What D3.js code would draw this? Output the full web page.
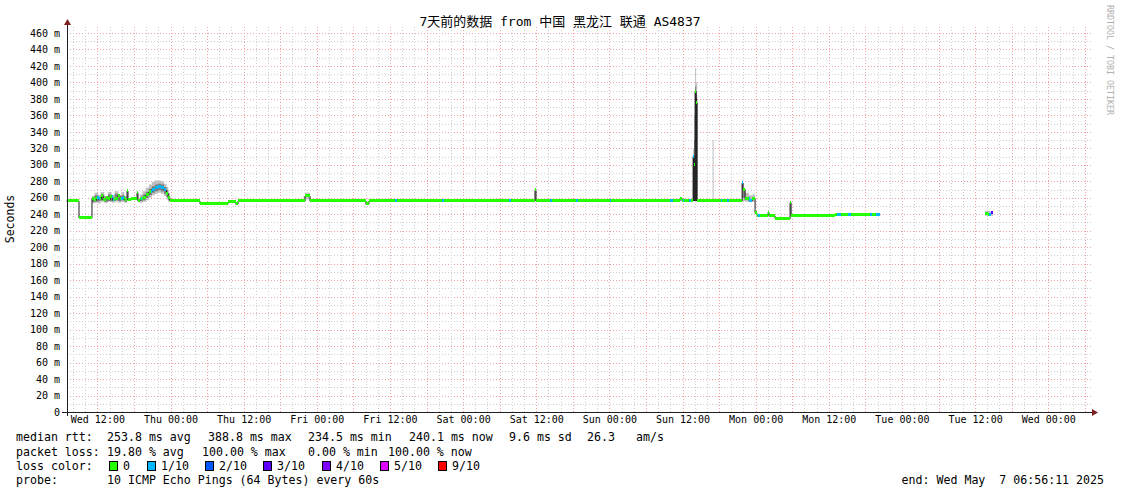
<!DOCTYPE html>
<html><head><meta charset="utf-8">
<script src="https://cdn.jsdelivr.net/npm/d3@7"></script>
<style>
html,body{margin:0;padding:0;background:#fff;}
svg{display:block;}
text{font-family:"DejaVu Sans Mono","Noto Sans CJK SC",monospace;fill:#000;}
</style></head><body>
<svg id="chart" width="1121" height="494"></svg>
<script>
// ---------------- data ----------------
const titleText = "7天前的数据 from 中国 黑龙江 联通 AS4837";
const endTime = "2025-05-07T06:56:11";
const spanHours = 168;
const yTickValues = [0,20,40,60,80,100,120,140,160,180,200,220,240,260,280,300,320,340,360,380,400,420,440,460];
const yTickLabels = ["0","20 m","40 m","60 m","80 m","100 m","120 m","140 m","160 m","180 m","200 m","220 m","240 m","260 m","280 m","300 m","320 m","340 m","360 m","380 m","400 m","420 m","440 m","460 m"];
const xTickTimes = ["2025-04-30T12:00","2025-05-01T00:00","2025-05-01T12:00","2025-05-02T00:00","2025-05-02T12:00","2025-05-03T00:00","2025-05-03T12:00","2025-05-04T00:00","2025-05-04T12:00","2025-05-05T00:00","2025-05-05T12:00","2025-05-06T00:00","2025-05-06T12:00","2025-05-07T00:00"];
const xTickLabels = ["Wed 12:00","Thu 00:00","Thu 12:00","Fri 00:00","Fri 12:00","Sat 00:00","Sat 12:00","Sun 00:00","Sun 12:00","Mon 00:00","Mon 12:00","Tue 00:00","Tue 12:00","Wed 00:00"];

// median rtt (ms), step values: [hours since start, ms]; null = no data
const medianPts = [[0,256],[2.05,235.5],[4.18,259],[4.5,257],[4.9,260],[5.3,258],[5.7,262],[6.0,257],[6.4,260],[6.8,258],[7.2,261],[7.6,257],[8.0,259],[8.4,262],[8.8,258],[9.2,260],[9.6,257],[9.93,268],[10.09,257],[10.6,258],[11.57,266],[11.73,256],[12.06,258],[12.5,260],[13.0,263],[13.5,267],[14.0,270],[14.5,272],[15.0,273],[15.5,272],[16.0,269],[16.4,265],[16.7,260],[16.98,256],[21.9,252.5],[26.5,255],[27.8,252],[28.14,256],[39.13,262],[39.95,256],[49.13,252],[49.62,256],[76.86,269],[77.03,256],[100.66,259],[101.0,256],[102.8,310],[102.97,300],[103.13,388.8],[103.3,375],[103.46,256],[110.84,278],[111.0,270],[111.33,258],[112.0,256],[112.5,259],[112.97,241],[113.3,238],[115.1,242],[115.27,238],[116.25,234.5],[118.71,254],[118.88,238],[126.0,239],[130.0,238.5],[133.48,null],[150.7,240],[151.2,239],[151.6,241],[152.01,null]];

// smoke (ping spread): [hours, low ms, high ms]
const smokeOuter = [[4.18,253,262],[4.6,254,266],[5.2,253,263],[5.6,255,267],[6.2,254,262],[6.8,255,267],[7.4,254,263],[7.9,255,268],[8.5,254,263],[9.0,255,267],[9.5,254,262],[9.93,256,270],[10.09,null,null],
[11.57,256,268],[11.73,null,null],
[12.06,254,264],[12.5,255,268],[13,257,272],[13.5,260,276],[14,263,279],[14.5,265,281],[15,266,281],[15.5,265,280],[16,262,277],[16.4,258,273],[16.7,255,266],[16.98,null,null],
[38.9,256,262],[39.13,258,266],[39.95,null,null],
[76.86,256,270],[77.03,null,null],
[102.8,256,320],[102.97,260,360],[103.13,300,417],[103.3,280,400],[103.46,null,null],
[106.0,256,330],[106.17,null,null],
[110.84,256,281],[111.0,256,272],[111.33,255,266],[112.0,255,263],[112.5,255,264],[112.97,null,null],
[118.71,240,256],[118.88,null,null],
[150.7,238,244],[151.5,238,243],[152.01,null,null]];
const smokeInner = [[4.18,255,260],[4.6,255,263],[5.2,256,260],[5.6,257,264],[6.2,255,260],[6.8,256,264],[7.4,256,260],[7.9,257,265],[8.5,256,260],[9.0,257,263],[9.5,255,260],[9.93,null,null],
[12.06,256,261],[12.5,257,264],[13,260,267],[13.5,263,271],[14,266,274],[14.5,268,276],[15,269,277],[15.5,268,276],[16,265,273],[16.4,261,269],[16.7,257,262],[16.98,null,null],
[102.8,256,312],[102.97,262,330],[103.13,320,395],[103.3,300,385],[103.46,null,null],
[110.84,260,279],[111.0,260,270],[111.33,null,null]];
// very concentrated smoke (all pings alike)
const smokeDense = [[102.8,256,310],[102.97,256,305],[103.13,256,388.8],[103.3,256,380],[103.46,null,null]];

// loss periods: [from h, to h, loss level index]
const lossPatches = [[5.05,5.38,1],[7.46,7.79,1],[8.94,9.22,1],[12.22,12.44,1],[13.9,16.4,1],[53.9,54.2,1],[61.6,62.0,1],[72.65,72.9,1],[79.3,79.6,1],[83.6,83.9,1],[89.2,89.4,1],[99.0,99.5,1],[101.1,101.3,1],[102.2,102.4,1],[102.8,102.97,1],[107.3,107.6,1],[108.4,108.7,1],[110.84,111.0,1],[111.9,112.4,1],[113.4,113.7,1],[126.4,127.0,1],[128.2,128.7,1],[131.8,132.2,1],[132.8,133.48,1],[151.3,151.6,1],[151.6,152.01,3]];

const lossLevels = ["0","1/10","2/10","3/10","4/10","5/10","9/10"];
const lossColors = ["#26ff00","#00b8ff","#0059ff","#5e00ff","#7e00ff","#dd00ff","#ff0000"];

const rttLabels = ["253.8 ms avg","388.8 ms max","234.5 ms min","240.1 ms now","9.6 ms sd","26.3","am/s"];
const lossLabels = ["19.80 % avg","100.00 % max","0.00 % min","100.00 % now"];
const probeText = "10 ICMP Echo Pings (64 Bytes) every 60s";
const endText = "end: Wed May  7 06:56:11 2025";

// ---------------- drawing ----------------
const svg = d3.select("#chart");
const endDate = new Date(endTime + "Z");
const startDate = new Date(endDate.getTime() - spanHours * 3600e3);
const T = h => new Date(startDate.getTime() + h * 3600e3);

const x = d3.scaleUtc().domain([startDate, endDate]).range([66.5, 1090.5]);
const y = d3.scaleLinear().domain([0, 467.2]).range([412, 27]);
const X0 = 67, X1 = 1093, Ytop = 27, Ybot = 412;

// grid
const grid = svg.append("g").attr("shape-rendering", "crispEdges");
const minorCol = "#cfcfcf", majorCol = "#f2a2a2";
d3.range(10, 467, 10).forEach(v => {
  const yy = Math.round(y(v)) + 0.5;
  grid.append("line").attr("x1", X0).attr("x2", X1).attr("y1", yy).attr("y2", yy)
    .attr("stroke", v % 20 === 0 ? majorCol : minorCol).attr("stroke-dasharray", "1,2");
});
d3.utcHour.every(2).range(startDate, endDate).forEach(t => {
  const xx = Math.round(x(t)) + 0.5;
  grid.append("line").attr("x1", xx).attr("x2", xx).attr("y1", Ytop).attr("y2", Ybot)
    .attr("stroke", t.getUTCHours() % 6 === 0 ? majorCol : minorCol).attr("stroke-dasharray", "1,2");
});

// helpers
function stepExpand(pts) {
  const out = [];
  for (let i = 0; i < pts.length; i++) {
    const p = pts[i];
    if (p[1] == null) { out.push(p); continue; }
    out.push(p);
    const n = pts[i + 1];
    if (!n || n[1] == null) out.push([n ? n[0] : spanHours, ...p.slice(1)]);
  }
  return out;
}

// smoke
const smokeArea = d3.area().defined(d => d[1] != null)
  .x(d => x(T(d[0]))).y0(d => y(d[1])).y1(d => y(d[2])).curve(d3.curveStepAfter);
svg.append("path").attr("d", smokeArea(stepExpand(smokeOuter))).attr("fill", "#c0c0c0");
svg.append("path").attr("d", smokeArea(stepExpand(smokeInner))).attr("fill", "#7c7c7c");
svg.append("path").attr("d", smokeArea(stepExpand(smokeDense))).attr("fill", "#262626");

// median dark step line
const medLine = d3.line().defined(d => d[1] != null)
  .x(d => x(T(d[0]))).y(d => y(d[1])).curve(d3.curveStepAfter);
svg.append("path").attr("d", medLine(stepExpand(medianPts)))
  .attr("fill", "none").attr("stroke", "#202020").attr("stroke-width", 1);

// median segments (loss colored)
const segs = [];
for (let i = 0; i < medianPts.length - 1; i++) {
  if (medianPts[i][1] != null) segs.push({h0: medianPts[i][0], h1: medianPts[i + 1][0], v: medianPts[i][1]});
}
const medG = svg.append("g").attr("shape-rendering", "crispEdges");
medG.selectAll("rect.m").data(segs).join("rect").attr("class", "m")
  .attr("x", d => x(T(d.h0))).attr("width", d => Math.max(1, x(T(d.h1)) - x(T(d.h0))))
  .attr("y", d => y(d.v) - 2).attr("height", 3).attr("fill", lossColors[0]);
const lossRects = [];
lossPatches.forEach(([a, b, lv]) => {
  segs.forEach(s => {
    const h0 = Math.max(a, s.h0), h1 = Math.min(b, s.h1);
    if (h1 > h0) lossRects.push({h0, h1, v: s.v, lv});
  });
});
medG.selectAll("rect.l").data(lossRects).join("rect").attr("class", "l")
  .attr("x", d => x(T(d.h0))).attr("width", d => Math.max(1, x(T(d.h1)) - x(T(d.h0))))
  .attr("y", d => y(d.v) - 2).attr("height", 3).attr("fill", d => lossColors[d.lv]);

// axes
const axG = svg.append("g").attr("shape-rendering", "crispEdges");
axG.append("line").attr("x1", 62).attr("x2", 1093).attr("y1", 412.5).attr("y2", 412.5).attr("stroke", "#1f1f1f");
axG.append("line").attr("x1", 67.5).attr("x2", 67.5).attr("y1", 416).attr("y2", 22).attr("stroke", "#1f1f1f");
svg.append("path").attr("d", "M64,25L71,25L67.5,19Z").attr("fill", "#801f1f");
svg.append("path").attr("d", "M1092,409L1092,416L1098,412.5Z").attr("fill", "#801f1f");

// y labels via d3 axis
const yAxis = d3.axisLeft(y).tickValues(yTickValues).tickFormat((d, i) => yTickLabels[i]).tickSize(0).tickPadding(0);
const yg = svg.append("g").attr("transform", "translate(60,0)").call(yAxis);
yg.select(".domain").remove();
yg.selectAll("text").attr("font-family", "DejaVu Sans Mono").attr("font-size", 10).attr("fill", "#000");

// x labels
const xAxis = d3.axisBottom(x).tickValues(xTickTimes.map(s => new Date(s + "Z"))).tickFormat((d, i) => xTickLabels[i]).tickSize(0).tickPadding(0);
const xg = svg.append("g").attr("transform", "translate(0,416)").call(xAxis);
xg.select(".domain").remove();
xg.selectAll("text").attr("font-family", "DejaVu Sans Mono").attr("font-size", 10).attr("fill", "#000");

// title
svg.append("text").attr("x", 560).attr("y", 26).attr("text-anchor", "middle").attr("font-size", 13).text(titleText);
svg.append("text").attr("transform", "translate(14,219) rotate(-90)").attr("text-anchor", "middle").attr("font-size", 11.5).text("Seconds");
svg.append("text").attr("transform", "translate(1107,5) rotate(90)").attr("font-size", 8.3).style("fill", "#b0b0b0").text("RRDTOOL / TOBI OETIKER");

// legend
const fs = 11.6;
const L = (xx, yy, s) => svg.append("text").attr("x", xx).attr("y", yy).attr("font-size", fs).attr("xml:space", "preserve").style("white-space", "pre").text(s);
L(16, 441, "median rtt:");
[107, 208, 308, 409, 509, 587, 636].forEach((xx, i) => L(xx, 441, rttLabels[i]));
L(16, 456, "packet loss:");
[107, 202, 308, 388].forEach((xx, i) => L(xx, 456, lossLabels[i]));
L(16, 470, "loss color:");
[109, 147, 205, 263, 322, 380, 438].forEach((xx, i) => {
  svg.append("rect").attr("x", xx + 0.5).attr("y", 461.5).attr("width", 8).attr("height", 9)
    .attr("fill", lossColors[i]).attr("stroke", "#000").attr("stroke-width", 1);
  L(xx + 14, 470, lossLevels[i]);
});
L(16, 484, "probe:");
L(107, 484, probeText);
svg.append("text").attr("x", 1104).attr("y", 484).attr("text-anchor", "end").attr("font-size", fs).style("white-space", "pre").text(endText);
</script>
</body></html>
